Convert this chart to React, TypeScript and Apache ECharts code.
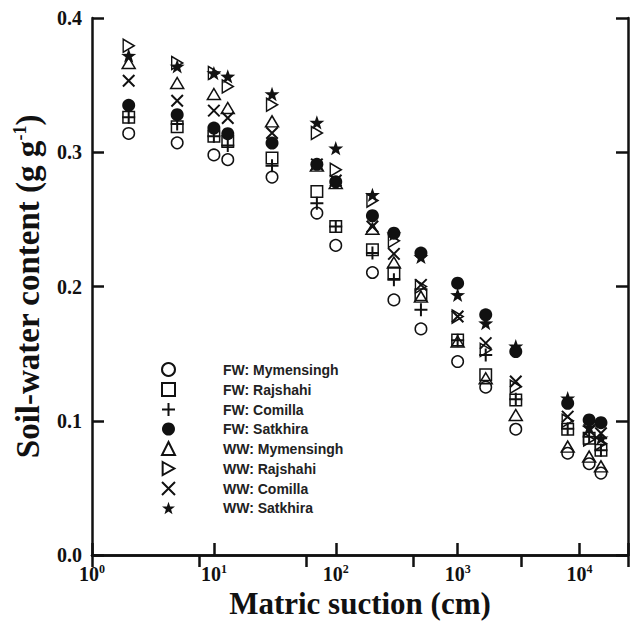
import React, { useEffect, useRef } from "react";
import * as echarts from "echarts";

const suction = [2, 5, 10, 13, 30, 70, 100, 200, 300, 500, 1000, 1700, 3000, 8000, 12000, 15000];

const fwMymensingh = [0.314, 0.307, 0.298, 0.2945, 0.2815, 0.2547, 0.2306, 0.2104, 0.19, 0.1684, 0.1441, 0.125, 0.0937, 0.0758, 0.068, 0.061];
const fwRajshahi = [0.326, 0.319, 0.312, 0.308, 0.2957, 0.2708, 0.2447, 0.2273, 0.21, 0.1938, 0.1602, 0.1342, 0.1155, 0.0937, 0.087, 0.078];
const fwComilla = [0.326, 0.321, 0.312, 0.305, 0.29, 0.2621, 0.2447, 0.225, 0.205, 0.1826, 0.16, 0.149, 0.116, 0.094, 0.088, 0.078];
const fwSatkhira = [0.335, 0.328, 0.318, 0.3138, 0.3068, 0.291, 0.278, 0.2527, 0.2397, 0.2249, 0.2025, 0.1789, 0.1515, 0.113, 0.1006, 0.0986];
const wwMymensingh = [0.3665, 0.3516, 0.3434, 0.333, 0.323, 0.29, 0.277, 0.243, 0.2179, 0.1925, 0.159, 0.1317, 0.1043, 0.0807, 0.0733, 0.066];
const wwRajshahi = [0.3794, 0.3665, 0.359, 0.349, 0.3354, 0.3143, 0.287, 0.264, 0.234, 0.2, 0.1776, 0.1528, 0.1254, 0.1, 0.086, 0.083];
const wwComilla = [0.3533, 0.3384, 0.331, 0.3255, 0.3143, 0.291, 0.279, 0.2447, 0.2243, 0.2012, 0.1776, 0.1578, 0.1292, 0.1031, 0.093, 0.0907];
const wwSatkhira = [0.372, 0.364, 0.359, 0.3565, 0.3434, 0.3222, 0.303, 0.2683, 0.239, 0.222, 0.1938, 0.1727, 0.1555, 0.1168, 0.095, 0.087];

const seriesNames = [
  "FW: Mymensingh",
  "FW: Rajshahi",
  "FW: Comilla",
  "FW: Satkhira",
  "WW: Mymensingh",
  "WW: Rajshahi",
  "WW: Comilla",
  "WW: Satkhira",
];

const yTicks = [0, 0.1, 0.2, 0.3, 0.4];

const INK = "#111";
const CLEAR = "rgba(0,0,0,0)";
const PLUS = "path://M5,0 L5,10 M0,5 L10,5";
const CROSS = "path://M0,0 L10,10 M10,0 L0,10";
const TRI_RIGHT = "path://M0,0 L9,5 L0,10 Z";
const STAR =
  "path://M10,0 L12.351,6.764 L19.511,6.91 L13.804,11.236 L15.878,18.09 L10,14 L4.122,18.09 L6.196,11.236 L0.489,6.91 L7.649,6.764 Z";

export default function App() {
  const ref = useRef<HTMLDivElement>(null);

  useEffect(() => {
    if (!ref.current) return;
    const chart = echarts.init(ref.current, null, { renderer: "svg" });

    const open = { color: CLEAR, borderColor: INK, borderWidth: 1.5, opacity: 1 };
    const filled = { color: INK, borderColor: INK, borderWidth: 0, opacity: 1 };
    const defs = [
      { vals: fwMymensingh, symbol: "circle", size: 11.5, style: open, z: 2 },
      { vals: fwRajshahi, symbol: "rect", size: 11.5, style: open, z: 2 },
      { vals: fwComilla, symbol: PLUS, size: 13, style: { color: CLEAR, borderColor: INK, borderWidth: 2, opacity: 1 }, z: 2 },
      { vals: fwSatkhira, symbol: "circle", size: 13, style: filled, z: 4 },
      { vals: wwMymensingh, symbol: "triangle", size: [13, 11], style: open, z: 2 },
      { vals: wwRajshahi, symbol: TRI_RIGHT, size: [11, 13], style: open, z: 2 },
      { vals: wwComilla, symbol: CROSS, size: 11.5, style: { color: CLEAR, borderColor: INK, borderWidth: 2, opacity: 1 }, z: 2 },
      { vals: wwSatkhira, symbol: STAR, size: [15, 14.3], style: filled, z: 3 },
    ];

    const series = defs.map((d, i) => ({
      type: "scatter",
      name: seriesNames[i],
      xAxisIndex: 0,
      yAxisIndex: 0,
      symbol: d.symbol,
      symbolSize: d.size,
      itemStyle: d.style,
      z: d.z,
      data: suction.map((s, k) => [s, d.vals[k]]),
    }));

    const isPow = (v: number) => {
      const l = Math.log10(v);
      return Math.abs(l - Math.round(l)) < 1e-6;
    };

    chart.setOption({
      animation: false,
      grid: {
        left: 92,
        right: 7,
        top: 18,
        bottom: 69,
        containLabel: false,
        outerBoundsMode: "none",
      },
      legend: {
        data: seriesNames,
        orient: "vertical",
        left: 156,
        top: 357,
        itemWidth: 13,
        itemHeight: 13,
        itemGap: 5,
        selectedMode: false,
        textStyle: {
          fontFamily: "Liberation Sans",
          fontWeight: "bold",
          fontSize: 14,
          color: "#222",
          padding: [0, 0, 0, 43],
        },
      },
      xAxis: [
        {
          type: "log",
          logBase: 10,
          min: 1,
          max: 25000,
          position: "bottom",
          name: "Matric suction (cm)",
          nameLocation: "middle",
          nameGap: 32,
          nameTextStyle: {
            fontFamily: "Liberation Serif",
            fontWeight: "bold",
            fontSize: 31,
            color: INK,
          },
          axisLine: { show: true, lineStyle: { color: INK, width: 2.5 } },
          axisTick: { show: true, inside: true, length: 12, lineStyle: { color: INK, width: 2.5 } },
          minorTick: { show: false },
          splitLine: { show: false },
          axisLabel: {
            margin: 8,
            formatter: (v: number) =>
              isPow(v) ? "{b|10}{s|" + Math.round(Math.log10(v)) + "}" : "",
            rich: {
              b: { fontFamily: "Liberation Serif", fontWeight: "bold", fontSize: 20, color: INK },
              s: {
                fontFamily: "Liberation Serif",
                fontWeight: "bold",
                fontSize: 12,
                color: INK,
                padding: [0, 0, 9, 0],
              },
            },
          },
        },
        {
          type: "value",
          min: 0,
          max: 5,
          interval: 1,
          position: "top",
          axisLine: { show: true, lineStyle: { color: INK, width: 2.5 } },
          axisTick: { show: true, inside: true, length: 12, lineStyle: { color: INK, width: 2.5 } },
          axisLabel: { show: false },
          splitLine: { show: false },
        },
      ],
      yAxis: [
        {
          type: "value",
          min: yTicks[0],
          max: yTicks[yTicks.length - 1],
          interval: 0.1,
          position: "left",
          name: "Soil-water content (g g{sup|-1})",
          nameLocation: "middle",
          nameRotate: 90,
          nameGap: 48,
          nameTextStyle: {
            fontFamily: "Liberation Serif",
            fontWeight: "bold",
            fontSize: 33,
            color: INK,
            rich: {
              sup: {
                fontFamily: "Liberation Serif",
                fontWeight: "bold",
                fontSize: 18,
                color: INK,
                padding: [0, 0, 15, 0],
              },
            },
          },
          axisLine: { show: true, lineStyle: { color: INK, width: 2.5 } },
          axisTick: { show: true, inside: true, length: 12, lineStyle: { color: INK, width: 2.5 } },
          splitLine: { show: false },
          axisLabel: {
            margin: 10,
            fontFamily: "Liberation Serif",
            fontWeight: "bold",
            fontSize: 20,
            color: INK,
            formatter: (v: number) => v.toFixed(1),
          },
        },
        {
          type: "value",
          min: yTicks[0],
          max: yTicks[yTicks.length - 1],
          interval: 0.1,
          position: "right",
          axisLine: { show: true, lineStyle: { color: INK, width: 2.5 } },
          axisTick: { show: true, inside: true, length: 12, lineStyle: { color: INK, width: 2.5 } },
          axisLabel: { show: false },
          splitLine: { show: false },
        },
      ],
      series,
    });

    return () => chart.dispose();
  }, []);

  return (
    <div
      ref={ref}
      style={{ position: "fixed", left: 0, top: 0, width: 635, height: 624, background: "#fff" }}
    />
  );
}
